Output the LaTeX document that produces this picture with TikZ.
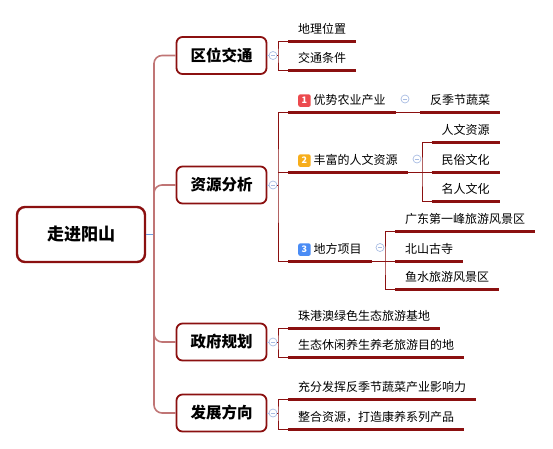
\documentclass[tikz,border=0pt]{standalone}
\usepackage{fontspec}
\setmainfont{Noto Sans CJK SC}
\usepackage{tikz}
\definecolor{MapRed}{HTML}{8B1010}
\definecolor{MapTrunk}{HTML}{C07575}
\definecolor{MapBlue}{HTML}{6C9CE0}
\definecolor{MapFold}{HTML}{A8BCE2}
\definecolor{TagRed}{HTML}{EC4A4E}
\definecolor{TagOrange}{HTML}{F7AE1B}
\definecolor{TagBlue}{HTML}{4A8CF5}
\newcommand{\numtag}[2]{\tikz[baseline=-3.8pt,x=1pt,y=1pt]\node[anchor=center,fill=#1,rounded corners=2pt,text=white,font=\fontsize{9}{9}\selectfont\bfseries,text height=6.5pt,text depth=0pt,minimum size=12.5pt,inner sep=0pt] at (0,0) {#2};\hspace{3pt}}

\begin{document}
\begin{tikzpicture}[x=1pt,y=-1pt,
  rootbox/.style={draw=MapRed,line width=2.4pt,rounded corners=8pt,minimum width=128pt,minimum height=55pt,font=\fontsize{17}{17}\selectfont\bfseries},
  topic/.style={draw=MapRed,line width=1.8pt,rounded corners=6pt,minimum width=90pt,minimum height=37pt,font=\fontsize{15.5}{15.5}\selectfont\bfseries},
  leaf/.style={anchor=south west,inner xsep=10pt,inner ysep=5pt,text height=10pt,text depth=2.4pt,font=\fontsize{12}{12}\selectfont},
  uline/.style={draw=MapRed,line width=3pt},
  twig/.style={draw=MapRed,line width=0.8pt},
  trunkline/.style={draw=MapTrunk,line width=1.6pt,rounded corners=8pt},
  fold/.style={circle,draw=MapFold,line width=0.7pt,minimum size=8pt,inner sep=0pt,
    path picture={\draw[MapFold,line width=0.7pt] (path picture bounding box.center)+(-2.2pt,0)--+(2.2pt,0);}}]
\path[use as bounding box] (0,0) rectangle (553,448);

% root and main topics
\node[rootbox] (root) at (81,234.5) {走进阳山};
\coordinate (trunk) at (154,234.5);
\node[topic] (qu) at (221.5,55.5) {区位交通};
\node[topic] (zy) at (221.5,185) {资源分析};
\node[topic] (zf) at (221.5,342) {政府规划};
\node[topic] (fz) at (221.5,413) {发展方向};

\draw[MapBlue,line width=0.8pt] (root.east) -- (trunk);
\foreach \t in {qu,zy,zf,fz}
  \draw[trunkline] (trunk) |- (\t.west);

% fold markers
\node[fold] (fqu) at (273,55.5) {};
\node[fold] (fzy) at (273,185) {};
\node[fold] (fzf) at (273,342) {};
\node[fold] (ffz) at (273,413) {};
\foreach \t/\f in {qu/fqu,zy/fzy,zf/fzf,fz/ffz}
  \draw[MapFold,line width=0.7pt] (\t.east) -- (\f.west);

% 区位交通
\coordinate (bqu) at (278,55.5);
\node[leaf] (dl) at (288,41) {地理位置};
\node[leaf] (jt) at (288,70) {交通条件};
\draw[twig] (fqu.east) -- (bqu);
\draw[twig] (dl.south west) -| (bqu) |- (jt.south west);
\draw[uline] (dl.south west) -- (dl.south east);
\draw[uline] (jt.south west) -- (jt.south east);

% 资源分析
\coordinate (bzy) at (278,185);
\node[leaf] (ys) at (288,112) {\numtag{TagRed}{1}优势农业产业};
\node[leaf] (ff) at (288,172) {\numtag{TagOrange}{2}丰富的人文资源};
\node[leaf] (df) at (288,261) {\numtag{TagBlue}{3}地方项目};
\draw[twig] (fzy.east) -- (bzy);
\draw[twig] (ys.south west) -| (bzy) |- (df.south west);
\draw[twig] (ff.south west) -- (ff.south west -| bzy);
\foreach \n in {ys,ff,df}
  \draw[uline] (\n.south west) -- (\n.south east);

% 优势农业产业
\node[fold] (fys) at (405,99) {};
\node[leaf] (fj) at (420,112) {反季节蔬菜};
\draw[twig] (ys.south east) -- (fj.south west);
\draw[uline] (fj.south west) -- (fj.south east);

% 丰富的人文资源
\node[fold] (fff) at (417,159) {};
\coordinate (bff) at (422,172);
\node[leaf] (rw) at (431.5,142) {人文资源};
\node[leaf] (ms) at (431.5,172) {民俗文化};
\node[leaf] (mr) at (431.5,201) {名人文化};
\draw[twig] (ff.south east) -- (bff);
\draw[twig] (rw.south west) -| (bff) |- (mr.south west);
\draw[twig] (bff) -- (ms.south west);
\foreach \n in {rw,ms,mr}
  \draw[uline] (\n.south west) -- (\n.south east);

% 地方项目
\node[fold] (fdf) at (380,247.5) {};
\coordinate (bdf) at (385,261);
\node[leaf] (gd) at (395,231) {广东第一峰旅游风景区};
\node[leaf] (bs) at (395,261) {北山古寺};
\node[leaf] (ysf) at (395,289) {鱼水旅游风景区};
\draw[twig] (df.south east) -- (bdf);
\draw[twig] (gd.south west) -| (bdf) |- (ysf.south west);
\draw[twig] (bdf) -- (bs.south west);
\foreach \n in {gd,bs,ysf}
  \draw[uline] (\n.south west) -- (\n.south east);

% 政府规划
\coordinate (bzf) at (278,342);
\node[leaf] (zg) at (288,328) {珠港澳绿色生态旅游基地};
\node[leaf] (st) at (288,357) {生态休闲养生养老旅游目的地};
\draw[twig] (fzf.east) -- (bzf);
\draw[twig] (zg.south west) -| (bzf) |- (st.south west);
\draw[uline] (zg.south west) -- (zg.south east);
\draw[uline] (st.south west) -- (st.south east);

% 发展方向
\coordinate (bfz) at (278,413);
\node[leaf] (cf) at (288,399) {充分发挥反季节蔬菜产业影响力};
\node[leaf] (zh) at (288,429) {整合资源，打造康养系列产品};
\draw[twig] (ffz.east) -- (bfz);
\draw[twig] (cf.south west) -| (bfz) |- (zh.south west);
\draw[uline] (cf.south west) -- (cf.south east);
\draw[uline] (zh.south west) -- (zh.south east);
\end{tikzpicture}
\end{document}
